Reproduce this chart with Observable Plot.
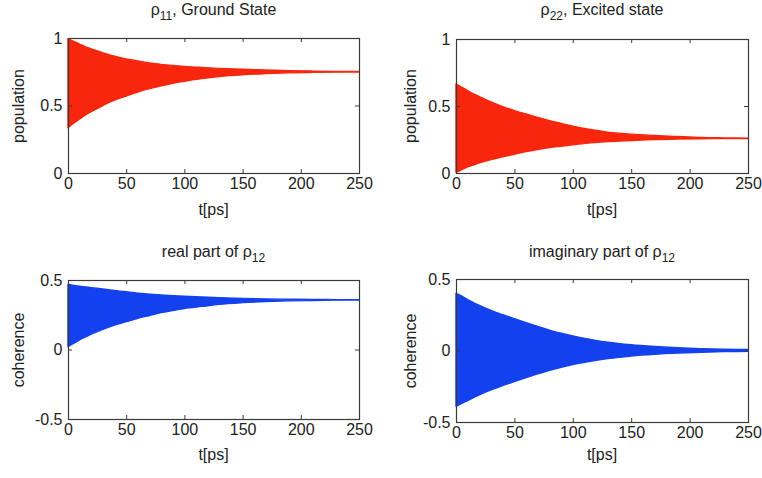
<!DOCTYPE html>
<html>
<head>
<meta charset="utf-8">
<script src="https://cdn.jsdelivr.net/npm/d3@7"></script>
<script src="https://cdn.jsdelivr.net/npm/@observablehq/plot@0.6"></script>
<style>
  html, body { margin: 0; padding: 0; background: #fff; }
  #root { position: relative; width: 762px; height: 478px; overflow: hidden; font-family: "Liberation Sans", Arial, sans-serif; color: #222; }
  .panel { position: absolute; }
  .lbl { position: absolute; transform: translate(-50%, -50%); white-space: nowrap; font-size: 16px; color: #222; }
  .ylbl { transform: translate(-50%, -50%) rotate(-90deg); }
  .ttl { font-size: 16px; }
  .ttl sub { font-size: 12px; vertical-align: -5px; }
</style>
</head>
<body>
<div id="root"></div>
<script>
// ---- data (envelopes of the rapidly oscillating signals) ----
const t = [0, 5, 10, 15, 20, 30, 40, 50, 60, 70, 80, 90, 100, 115, 130, 150, 170, 190, 210, 230, 250];

const rho11Upper = [0.995, 0.975, 0.955, 0.935, 0.92, 0.89, 0.865, 0.845, 0.83, 0.815, 0.805, 0.797, 0.79, 0.782, 0.775, 0.768, 0.763, 0.758, 0.755, 0.753, 0.752];
const rho11Lower = [0.335, 0.37, 0.40, 0.43, 0.455, 0.50, 0.54, 0.57, 0.60, 0.625, 0.645, 0.665, 0.68, 0.70, 0.715, 0.728, 0.736, 0.742, 0.745, 0.747, 0.748];

const rho22Upper = [0.665, 0.64, 0.615, 0.59, 0.57, 0.53, 0.495, 0.465, 0.44, 0.415, 0.39, 0.37, 0.35, 0.325, 0.305, 0.29, 0.28, 0.272, 0.265, 0.262, 0.26];
const rho22Lower = [0.005, 0.025, 0.045, 0.06, 0.075, 0.10, 0.12, 0.14, 0.16, 0.175, 0.19, 0.20, 0.21, 0.225, 0.235, 0.243, 0.25, 0.253, 0.256, 0.257, 0.258];

const reRho12Upper = [0.47, 0.46, 0.455, 0.45, 0.445, 0.435, 0.425, 0.415, 0.405, 0.398, 0.392, 0.387, 0.383, 0.378, 0.373, 0.368, 0.364, 0.362, 0.36, 0.359, 0.358];
const reRho12Lower = [0.02, 0.045, 0.07, 0.09, 0.11, 0.145, 0.175, 0.20, 0.225, 0.245, 0.265, 0.28, 0.295, 0.31, 0.325, 0.337, 0.345, 0.35, 0.353, 0.355, 0.356];

const imRho12Upper = [0.40, 0.38, 0.355, 0.335, 0.315, 0.28, 0.25, 0.222, 0.195, 0.168, 0.143, 0.121, 0.102, 0.078, 0.058, 0.040, 0.028, 0.019, 0.013, 0.009, 0.007];
const imRho12Lower = [-0.39, -0.37, -0.35, -0.33, -0.31, -0.275, -0.245, -0.217, -0.19, -0.163, -0.138, -0.117, -0.098, -0.075, -0.056, -0.038, -0.026, -0.018, -0.012, -0.008, -0.006];

const xTicks = [0, 50, 100, 150, 200, 250];
const popTicks = [0, 0.5, 1];
const cohTicks = [-0.5, 0, 0.5];

const titles = [
  "ρ<sub>11</sub>, Ground State",
  "ρ<sub>22</sub>, Excited state",
  "real part of ρ<sub>12</sub>",
  "imaginary part of ρ<sub>12</sub>"
];
const yLabels = ["population", "population", "coherence", "coherence"];
const xLabel = "t[ps]";

// ---- layout ----
const RED = "#f7260c";
const BLUE = "#1441ee";
const FRAME = "#3a3a3a";

const panels = [
  {left: 0,   top: 0,   w: 381, h: 239, ml: 68, mr: 22, mt: 38, mb: 66, upper: rho11Upper, lower: rho11Lower, color: RED,  yDom: [0, 1],      yTicks: popTicks, ttlY: 12,  xlY: 210, ylX: 19},
  {left: 381, top: 0,   w: 381, h: 239, ml: 75, mr: 14, mt: 39, mb: 66, upper: rho22Upper, lower: rho22Lower, color: RED,  yDom: [0, 1],      yTicks: popTicks, ttlY: 12,  xlY: 210, ylX: 30},
  {left: 0,   top: 239, w: 381, h: 239, ml: 68, mr: 22, mt: 41, mb: 59, upper: reRho12Upper, lower: reRho12Lower, color: BLUE, yDom: [-0.5, 0.5], yTicks: cohTicks, ttlY: 15, xlY: 216, ylX: 19},
  {left: 381, top: 239, w: 381, h: 239, ml: 75, mr: 14, mt: 40, mb: 56, upper: imRho12Upper, lower: imRho12Lower, color: BLUE, yDom: [-0.5, 0.5], yTicks: cohTicks, ttlY: 15, xlY: 216, ylX: 30}
];

const root = document.getElementById("root");

panels.forEach((p, i) => {
  const data = t.map((tt, k) => ({t: tt, hi: p.upper[k], lo: p.lower[k]}));
  const innerW = p.w - p.ml - p.mr;
  const innerH = p.h - p.mt - p.mb;
  const tl = 4;
  const chart = Plot.plot({
    width: p.w,
    height: p.h,
    marginLeft: p.ml,
    marginRight: p.mr,
    marginTop: p.mt,
    marginBottom: p.mb,
    style: {fontSize: "16px", fontFamily: "'Liberation Sans', Arial, sans-serif", color: "#222", background: "transparent"},
    x: {domain: [0, 250], ticks: xTicks, label: null},
    y: {domain: p.yDom, ticks: p.yTicks, label: null},
    marks: [
      Plot.areaY(data, {x: "t", y1: "lo", y2: "hi", fill: p.color, stroke: p.color, strokeWidth: 1.4, curve: "monotone-x"}),
      Plot.frame({stroke: FRAME, strokeWidth: 1.2}),
      Plot.tickX(xTicks, {x: d => d, insetTop: innerH - tl, stroke: FRAME}),
      Plot.tickX(xTicks, {x: d => d, insetBottom: innerH - tl, stroke: FRAME}),
      Plot.tickY(p.yTicks, {y: d => d, insetRight: innerW - tl, stroke: FRAME}),
      Plot.tickY(p.yTicks, {y: d => d, insetLeft: innerW - tl, stroke: FRAME}),
      Plot.axisX(xTicks, {tickSize: 0, tickPadding: 4, tickFormat: d => String(d), label: null, fill: "#222"}),
      Plot.axisY(p.yTicks, {tickSize: 0, tickPadding: 6, tickFormat: d => String(d), label: null, fill: "#222"})
    ]
  });
  const wrap = document.createElement("div");
  wrap.className = "panel";
  wrap.style.left = p.left + "px";
  wrap.style.top = p.top + "px";
  wrap.appendChild(chart);
  root.appendChild(wrap);

  const cx = p.left + p.ml + innerW / 2;
  const cy = p.top + p.mt + innerH / 2;

  const title = document.createElement("div");
  title.className = "lbl ttl";
  title.innerHTML = titles[i];
  title.style.left = cx + "px";
  title.style.top = (p.top + p.ttlY) + "px";
  root.appendChild(title);

  const xl = document.createElement("div");
  xl.className = "lbl";
  xl.textContent = xLabel;
  xl.style.left = cx + "px";
  xl.style.top = (p.top + p.xlY) + "px";
  root.appendChild(xl);

  const yl = document.createElement("div");
  yl.className = "lbl ylbl";
  yl.textContent = yLabels[i];
  yl.style.left = (p.left + p.ylX) + "px";
  yl.style.top = cy + "px";
  root.appendChild(yl);
});
</script>
</body>
</html>
